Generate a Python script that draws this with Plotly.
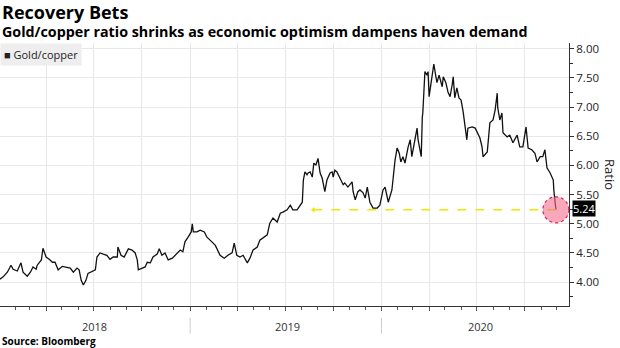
import pandas as pd
import plotly.graph_objects as go

# ---- data ----
# days since 2018-01-01
day_offsets = [2, 8, 16, 23, 27, 35, 42, 46, 54, 60, 65, 71, 73, 81, 84, 90, 96, 102, 107, 113,
               121, 126, 136, 142, 149, 153, 157, 161, 166, 170, 178, 184, 187, 193, 199, 206, 212, 218, 226, 227,
               233, 239, 247, 254, 260, 264, 266, 273, 279, 283, 289, 294, 302, 306, 311, 317, 323, 331, 336, 340,
               346, 351, 355, 361, 367, 369, 371, 378, 384, 392, 397, 403, 413, 422, 430, 437, 445, 449, 454, 460,
               466, 474, 479, 485, 493, 498, 504, 512, 517, 523, 531, 537, 542, 550, 556, 561, 569, 575, 579, 581,
               584, 588, 590, 594, 598, 601, 605, 609, 613, 617, 619, 622, 626, 632, 636, 638, 641, 645, 651, 657,
               660, 666, 674, 676, 680, 685, 689, 695, 699, 703, 708, 714, 722, 727, 733, 737, 743, 750, 756, 760,
               764, 767, 771, 775, 781, 785, 788, 794, 798, 800, 806, 808, 809, 813, 817, 819, 821, 825, 827, 830,
               834, 836, 840, 846, 848, 853, 857, 861, 865, 867, 870, 874, 878, 882, 886, 889, 893, 895, 903, 909,
               914, 918, 922, 924, 932, 937, 943, 947, 951, 952, 956, 960, 962, 970, 975, 981, 989, 994, 1000, 1006,
               1010, 1017, 1023, 1027, 1033, 1038, 1042, 1046, 1052, 1058, 1059, 1061, 1063]
gold_copper = [4.05, 4.09, 4.17, 4.29, 4.22, 4.19, 4.33, 4.17, 4.10, 4.17, 4.26, 4.22, 4.29, 4.38, 4.58, 4.43, 4.39, 4.34, 4.34, 4.21,
               4.27, 4.26, 4.24, 4.17, 4.24, 4.21, 4.03, 3.95, 4.03, 4.15, 4.19, 4.21, 4.43, 4.50, 4.48, 4.46, 4.39, 4.43, 4.43, 4.60,
               4.46, 4.43, 4.57, 4.55, 4.50, 4.38, 4.21, 4.24, 4.26, 4.34, 4.33, 4.43, 4.48, 4.57, 4.46, 4.50, 4.38, 4.41, 4.46, 4.50,
               4.55, 4.52, 4.69, 4.77, 4.86, 5.00, 4.86, 4.86, 4.89, 4.86, 4.77, 4.72, 4.63, 4.46, 4.41, 4.46, 4.50, 4.67, 4.46, 4.43,
               4.46, 4.33, 4.41, 4.55, 4.60, 4.72, 4.76, 4.81, 5.01, 5.10, 5.03, 5.18, 5.20, 5.24, 5.32, 5.24, 5.24, 5.32, 5.37, 5.75,
               5.89, 5.84, 5.87, 5.89, 5.80, 6.04, 6.01, 6.12, 5.87, 5.78, 5.70, 5.55, 5.75, 5.87, 5.89, 5.80, 5.92, 5.89, 5.78, 5.67,
               5.70, 5.63, 5.72, 5.55, 5.41, 5.55, 5.58, 5.53, 5.44, 5.63, 5.37, 5.27, 5.27, 5.32, 5.58, 5.63, 5.37, 5.58, 6.09, 6.30,
               6.21, 6.06, 6.15, 6.04, 6.32, 6.44, 6.15, 6.49, 6.64, 6.44, 6.15, 6.83, 6.90, 7.61, 7.55, 7.61, 7.18, 7.43, 7.55, 7.74,
               7.52, 7.42, 7.55, 7.35, 7.52, 7.42, 7.26, 7.18, 7.38, 7.52, 7.16, 7.33, 7.16, 7.12, 6.92, 6.66, 6.44, 6.64, 6.66, 6.64,
               6.56, 6.47, 6.32, 6.15, 6.23, 6.73, 6.78, 6.95, 7.24, 6.99, 6.78, 6.90, 6.56, 6.49, 6.52, 6.39, 6.52, 6.32, 6.32, 6.66,
               6.30, 6.27, 6.21, 6.06, 6.15, 6.15, 6.27, 5.96, 5.87, 5.75, 5.58, 5.41, 5.24]
series_name = "Gold/copper"
last_value = 5.24
reference_start_day = 600
y_ticks = [4.0, 4.5, 5.0, 5.5, 6.0, 6.5, 7.0, 7.5, 8.0]
year_labels = ["2018", "2019", "2020"]
year_label_dates = ["2018-07-02", "2019-07-05", "2020-07-08"]
year_separators = ["2019-01-01", "2020-01-01"]

base = pd.Timestamp("2018-01-01")
dates = base + pd.to_timedelta(day_offsets, unit="D")
ref_start = base + pd.Timedelta(days=reference_start_day)
last_date = dates[-1]

FONT = "Open Sans"

fig = go.Figure()
fig.add_trace(go.Scatter(x=dates, y=gold_copper, mode="lines",
                         line=dict(color="#111111", width=1.3), name=series_name,
                         hoverinfo="x+y"))
fig.add_trace(go.Scatter(x=[ref_start, last_date], y=[last_value, last_value], mode="lines",
                         line=dict(color="#f2e600", width=1.5, dash="dash"), hoverinfo="skip"))
fig.add_trace(go.Scatter(x=[ref_start], y=[last_value], mode="markers",
                         marker=dict(symbol="triangle-left", size=5, color="#f2e600"), hoverinfo="skip"))

# highlight circle at last point
fig.add_shape(type="circle", xref="x", yref="y", xsizemode="pixel", ysizemode="pixel",
              xanchor=last_date, yanchor=last_value, x0=-13, x1=13, y0=-13, y1=13,
              fillcolor="rgba(244,110,140,0.6)", line=dict(color="#d8204f", width=1.2, dash="dot"),
              layer="above")

# year separators
for d in year_separators:
    fig.add_shape(type="line", xref="x", yref="paper", x0=d, x1=d, y0=-0.045, y1=-0.105,
                  line=dict(color="#cccccc", width=1))

annotations = []
for lbl, d in zip(year_labels, year_label_dates):
    annotations.append(dict(x=d, y=-0.078, xref="x", yref="paper", text=lbl, showarrow=False,
                            font=dict(family=FONT, size=11, color="#333333"), xanchor="center", yanchor="middle"))

annotations += [
    dict(x=0, y=1.116, xref="paper", yref="paper", text="<b>Recovery Bets</b>", showarrow=False,
         xanchor="left", yanchor="middle", font=dict(family=FONT, size=18, color="#000000")),
    dict(x=0, y=1.042, xref="paper", yref="paper",
         text="<b>Gold/copper ratio shrinks as economic optimism dampens haven demand</b>", showarrow=False,
         xanchor="left", yanchor="middle", font=dict(family=FONT, size=14.3, color="#000000")),
    dict(x=0, y=-0.133, xref="paper", yref="paper", text="<b>Source: Bloomberg</b>", showarrow=False,
         xanchor="left", yanchor="middle", font=dict(family=FONT, size=10, color="#000000")),
    dict(x=0, y=0.958, xref="paper", yref="paper", text="■ " + series_name, showarrow=False,
         xanchor="left", yanchor="middle", bgcolor="#eeeeee", borderpad=3,
         font=dict(family=FONT, size=11, color="#222222")),
    dict(x=1.072, y=0.498, xref="paper", yref="paper", text="Ratio", showarrow=False, textangle=90,
         xanchor="center", yanchor="middle", font=dict(family=FONT, size=13, color="#222222")),
    dict(x=1, y=last_value, xref="paper", yref="y", text=f"{last_value:.2f}", showarrow=False,
         xanchor="left", yanchor="middle", xshift=3, yshift=1, bgcolor="#000000", borderpad=0,
         font=dict(family=FONT, size=11, color="#ffffff")),
]

fig.update_layout(
    width=620, height=348,
    margin=dict(l=0, r=51, t=43, b=42),
    paper_bgcolor="white", plot_bgcolor="white",
    showlegend=False,
    annotations=annotations,
    font=dict(family=FONT, color="#222222"),
)
fig.update_xaxes(
    type="date", range=["2018-01-03", "2020-12-24"],
    showgrid=True, gridcolor="#e8e8e8", gridwidth=1,
    tick0="2018-01-01", dtick="M3", ticks="outside", ticklen=4, tickcolor="#555555",
    showticklabels=False,
    minor=dict(dtick="M1", tick0="2018-01-01", ticks="outside", ticklen=3, tickcolor="#555555", showgrid=False),
    showline=True, linecolor="#333333", linewidth=1, zeroline=False,
)
fig.update_yaxes(
    side="right", range=[3.59, 8.10],
    tickvals=y_ticks, ticktext=[f"{v:.2f}" for v in y_ticks],
    ticks="outside", ticklen=4, tickcolor="#333333",
    minor=dict(tickvals=[3.75, 4.25, 4.75, 5.25, 5.75, 6.25, 6.75, 7.25, 7.75],
               ticks="outside", ticklen=3, tickcolor="#333333", showgrid=False),
    showgrid=True, gridcolor="#e8e8e8", gridwidth=1,
    showline=True, linecolor="#333333", linewidth=1, zeroline=False,
    tickfont=dict(family=FONT, size=11.5, color="#222222"),
)

fig.write_html("out.html")
